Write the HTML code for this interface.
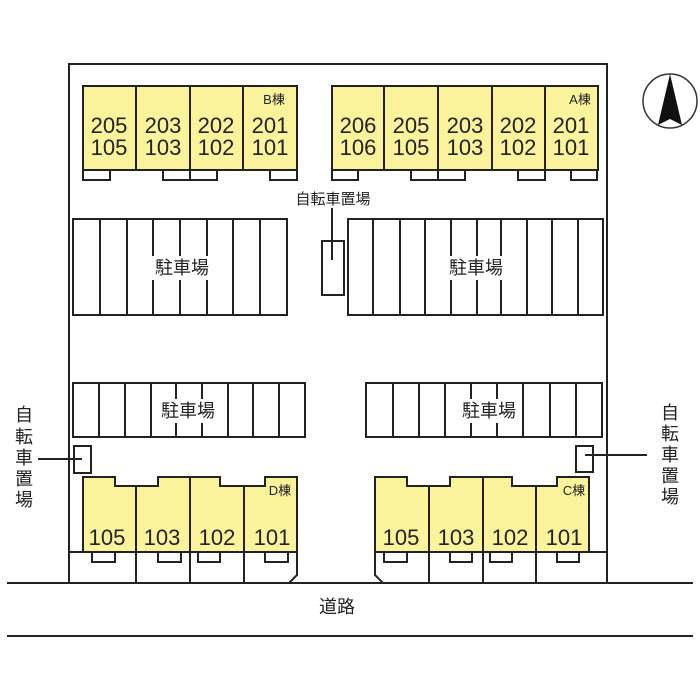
<!DOCTYPE html>
<html><head><meta charset="utf-8"><style>
html,body{margin:0;padding:0;background:#fff;width:700px;height:700px;overflow:hidden}
text{font-family:"Liberation Sans","Noto Sans CJK JP",sans-serif;fill:#222}
.n{font-size:22px}
.p{font-size:18px}
.k{font-size:13px}
</style></head><body>
<svg width="700" height="700" viewBox="0 0 700 700" xmlns="http://www.w3.org/2000/svg">
<g stroke="#222" stroke-width="2" fill="none">
<polyline points="69,583 69,64 607,64 607,583"/>
<line x1="7" y1="583" x2="693" y2="583"/>
<line x1="7" y1="636" x2="693" y2="636"/>
</g>
<g stroke="#222" stroke-width="2">
<rect x="83" y="86" width="214" height="84" fill="#fbf29c"/>
<line x1="136" y1="86" x2="136" y2="170"/><line x1="190" y1="86" x2="190" y2="170"/><line x1="243" y1="86" x2="243" y2="170"/>
<g fill="#fff">
<rect x="83" y="170" width="27" height="10"/><rect x="163" y="170" width="27" height="10"/><rect x="190" y="170" width="27" height="10"/><rect x="270" y="170" width="27" height="10"/>
</g>
<rect x="332" y="86" width="266" height="84" fill="#fbf29c"/>
<line x1="384" y1="86" x2="384" y2="170"/><line x1="438" y1="86" x2="438" y2="170"/><line x1="492" y1="86" x2="492" y2="170"/><line x1="545" y1="86" x2="545" y2="170"/>
<g fill="#fff">
<rect x="332" y="170" width="26" height="10"/><rect x="411" y="170" width="27" height="10"/><rect x="438" y="170" width="27" height="10"/><rect x="518" y="170" width="27" height="10"/><rect x="571" y="170" width="26" height="10"/>
</g>
<rect x="322" y="241" width="22" height="54" fill="#fff"/>
<line x1="332" y1="208" x2="332" y2="260"/>
<rect x="73" y="219" width="214" height="96" fill="#fff"/>
<g><line x1="100" y1="219" x2="100" y2="315"/><line x1="127" y1="219" x2="127" y2="315"/><line x1="153" y1="219" x2="153" y2="315"/><line x1="180" y1="219" x2="180" y2="315"/><line x1="207" y1="219" x2="207" y2="315"/><line x1="233" y1="219" x2="233" y2="315"/><line x1="260" y1="219" x2="260" y2="315"/></g>
<rect x="348" y="219" width="255" height="96" fill="#fff"/>
<g><line x1="373" y1="219" x2="373" y2="315"/><line x1="400" y1="219" x2="400" y2="315"/><line x1="425" y1="219" x2="425" y2="315"/><line x1="451" y1="219" x2="451" y2="315"/><line x1="477" y1="219" x2="477" y2="315"/><line x1="501" y1="219" x2="501" y2="315"/><line x1="527" y1="219" x2="527" y2="315"/><line x1="552" y1="219" x2="552" y2="315"/><line x1="578" y1="219" x2="578" y2="315"/></g>
<rect x="73" y="383" width="232" height="54" fill="#fff"/>
<g><line x1="99" y1="383" x2="99" y2="437"/><line x1="125" y1="383" x2="125" y2="437"/><line x1="151" y1="383" x2="151" y2="437"/><line x1="176" y1="383" x2="176" y2="437"/><line x1="202" y1="383" x2="202" y2="437"/><line x1="228" y1="383" x2="228" y2="437"/><line x1="253" y1="383" x2="253" y2="437"/><line x1="279" y1="383" x2="279" y2="437"/></g>
<rect x="366" y="383" width="236" height="54" fill="#fff"/>
<g><line x1="393" y1="383" x2="393" y2="437"/><line x1="419" y1="383" x2="419" y2="437"/><line x1="445" y1="383" x2="445" y2="437"/><line x1="471" y1="383" x2="471" y2="437"/><line x1="497" y1="383" x2="497" y2="437"/><line x1="523" y1="383" x2="523" y2="437"/><line x1="550" y1="383" x2="550" y2="437"/><line x1="576" y1="383" x2="576" y2="437"/></g>
<rect x="74" y="446" width="17" height="27" fill="#fff"/>
<line x1="38" y1="459" x2="82" y2="459"/>
<rect x="576" y="446" width="17" height="26" fill="#fff"/>
<line x1="585" y1="455" x2="647" y2="455"/>
<polygon points="83,477 115,477 115,486 158,486 158,477 220,477 220,486 265,486 265,477 297,477 297,552 83,552" fill="#fbf29c"/>
<line x1="136" y1="486" x2="136" y2="552"/><line x1="190" y1="477" x2="190" y2="552"/><line x1="244" y1="486" x2="244" y2="552"/>
<polyline points="69,552 297,552 297,575 289,583" fill="none"/>
<line x1="136" y1="552" x2="136" y2="583"/><line x1="190" y1="552" x2="190" y2="583"/><line x1="244" y1="552" x2="244" y2="583"/>
<g fill="#fff"><rect x="92" y="552" width="23" height="10"/><rect x="158" y="552" width="23" height="10"/><rect x="198" y="552" width="22" height="10"/><rect x="265" y="552" width="23" height="10"/></g>
<polygon points="375,477 407,477 407,486 450,486 450,477 512,477 512,486 557,486 557,477 589,477 589,552 375,552" fill="#fbf29c"/>
<line x1="429" y1="486" x2="429" y2="552"/><line x1="483" y1="477" x2="483" y2="552"/><line x1="536" y1="486" x2="536" y2="552"/>
<polyline points="607,552 375,552 375,575 383,583" fill="none"/>
<line x1="429" y1="552" x2="429" y2="583"/><line x1="483" y1="552" x2="483" y2="583"/><line x1="536" y1="552" x2="536" y2="583"/>
<g fill="#fff"><rect x="384" y="552" width="23" height="10"/><rect x="450" y="552" width="22" height="10"/><rect x="490" y="552" width="22" height="10"/><rect x="557" y="552" width="22" height="10"/></g>
</g>
<!-- white label backgrounds -->
<g fill="#fff">
<rect x="151" y="256" width="62" height="24"/>
<rect x="442" y="256" width="68" height="24"/>
<rect x="157" y="399" width="62" height="24"/>
<rect x="458" y="399" width="62" height="24"/>
</g>
<circle cx="670" cy="101" r="27" fill="#fff" stroke="#333" stroke-width="1.5"/>
<polygon points="670,74 658,125 670,119 682,125" fill="#111"/>
<g class="n" text-anchor="middle">
<text x="109" y="133">205</text><text x="109" y="155">105</text>
<text x="163" y="133">203</text><text x="163" y="155">103</text>
<text x="216" y="133">202</text><text x="216" y="155">102</text>
<text x="270" y="133">201</text><text x="270" y="155">101</text>
<text x="358" y="133">206</text><text x="358" y="155">106</text>
<text x="411" y="133">205</text><text x="411" y="155">105</text>
<text x="465" y="133">203</text><text x="465" y="155">103</text>
<text x="518" y="133">202</text><text x="518" y="155">102</text>
<text x="571" y="133">201</text><text x="571" y="155">101</text>
<text x="107" y="545">105</text><text x="162" y="545">103</text><text x="217" y="545">102</text><text x="272" y="545">101</text>
<text x="401" y="545">105</text><text x="456" y="545">103</text><text x="510" y="545">102</text><text x="564" y="545">101</text>
</g>
<g class="k" text-anchor="middle">
<text x="274" y="104">B棟</text><text x="580" y="104">A棟</text>
<text x="280" y="495">D棟</text><text x="574" y="495">C棟</text>
</g>
<g class="p" text-anchor="middle">
<text x="182" y="274">駐車場</text>
<text x="476" y="274">駐車場</text>
<text x="188" y="417">駐車場</text>
<text x="489" y="417">駐車場</text>
<text x="333" y="204" style="font-size:15px">自転車置場</text>
<text x="337" y="613">道路</text>
</g>
<g class="p" text-anchor="middle">
<text x="24" y="421">自</text><text x="24" y="443">転</text><text x="24" y="464">車</text><text x="24" y="485">置</text><text x="24" y="506">場</text>
<text x="670" y="419">自</text><text x="670" y="440">転</text><text x="670" y="461">車</text><text x="670" y="482">置</text><text x="670" y="503">場</text>
</g>
</svg>
</body></html>
